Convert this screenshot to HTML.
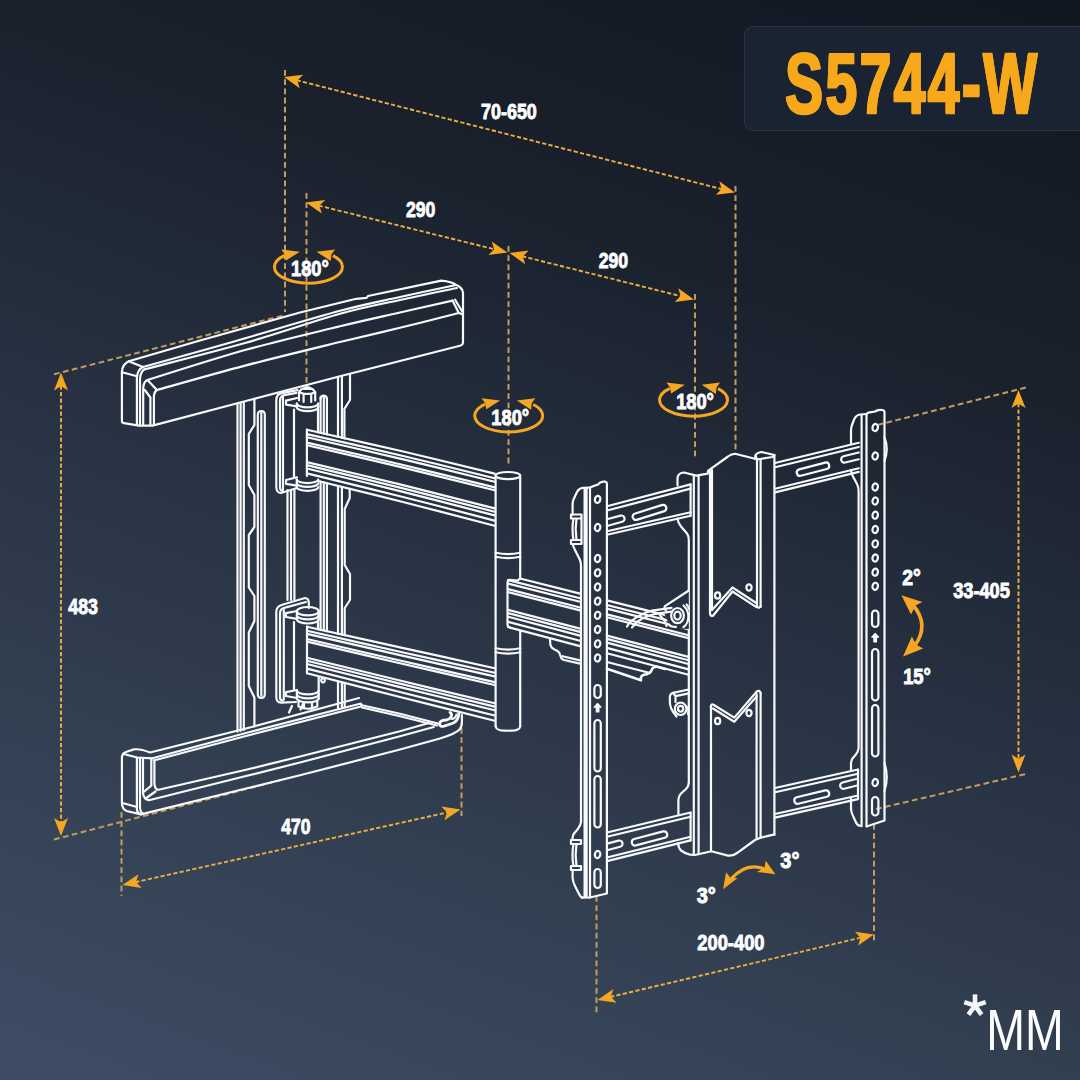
<!DOCTYPE html>
<html><head><meta charset="utf-8"><title>S5744-W</title>
<style>
html,body{margin:0;padding:0;}
body{width:1080px;height:1080px;overflow:hidden;position:relative;
background:linear-gradient(200deg,#111721 0%,#1a212d 27%,#2a3546 58%,#323f51 73%,#3e4d65 100%);
font-family:"Liberation Sans",sans-serif;}
.title{position:absolute;left:744px;top:26px;width:360px;height:105px;border-radius:9px;
background:#1a2331;border:1px solid #2b3543;box-sizing:border-box;}
.title span{position:absolute;left:40px;top:14px;font-weight:bold;font-size:85.5px;line-height:86px;color:#f7a81b;
transform-origin:0 0;transform:scale(0.668,1);white-space:nowrap;letter-spacing:3.5px;
-webkit-text-stroke:2.6px #f7a81b;text-shadow:1.3px 0 0 #f7a81b,-1.3px 0 0 #f7a81b;}
svg{position:absolute;left:0;top:0;}
.lbl{font-family:"Liberation Sans",sans-serif;font-weight:bold;fill:#fcfdfe;stroke:#fcfdfe;stroke-width:0.9px;}
.mm{position:absolute;color:#f3f5f8;white-space:nowrap;transform-origin:0 0;}
</style></head><body>
<div class="title"><span>S5744-W</span></div>
<svg width="1080" height="1080" viewBox="0 0 1080 1080">
<g fill="none" stroke="#c59b5e" stroke-width="2" stroke-dasharray="5.8 3.4">
<path d="M296.6 80.2L722.4 189.3" stroke="#eab042" stroke-dasharray="4.2 2.3" stroke-width="1.9"/>
<path d="M285.0 70.0L285.0 312.0"/>
<path d="M735.5 186.0L735.5 450.0"/>
<path d="M318.6 205.6L494.9 249.4" stroke="#eab042" stroke-dasharray="4.2 2.3" stroke-width="1.9"/>
<path d="M306.5 193.0L306.5 384.0"/>
<path d="M508.5 246.0L508.5 464.0"/>
<path d="M522.1 256.2L681.4 296.3" stroke="#eab042" stroke-dasharray="4.2 2.3" stroke-width="1.9"/>
<path d="M695.0 294.0L695.0 458.0"/>
<path d="M61.0 385.5L61.0 823.0" stroke="#eab042" stroke-dasharray="4.2 2.3" stroke-width="1.9"/>
<path d="M54.0 374.3L285.0 315.0"/>
<path d="M54.0 839.5L285.0 779.0"/>
<path d="M135.2 882.2L447.8 812.3" stroke="#eab042" stroke-dasharray="4.2 2.3" stroke-width="1.9"/>
<path d="M121.5 812.0L121.5 896.0"/>
<path d="M461.5 728.0L461.5 816.0"/>
<path d="M610.1 997.0L861.4 937.5" stroke="#eab042" stroke-dasharray="4.2 2.3" stroke-width="1.9"/>
<path d="M596.5 896.0L596.5 1013.0"/>
<path d="M874.0 824.0L874.0 941.0"/>
<path d="M1018.5 403.0L1018.5 759.5" stroke="#eab042" stroke-dasharray="4.2 2.3" stroke-width="1.9"/>
<path d="M877.5 425.0L1026.0 387.5"/>
<path d="M876.0 809.0L1026.0 774.0"/>
</g>
<g fill="none" stroke="#f8f9fb" stroke-width="2.2" stroke-linejoin="round" stroke-linecap="round">
<path d="M121.9 421 L121.9 372 Q122.2 364.5 128.8 361.3 L200 340.5 L300 312.5 L356.3 298.8 L366.5 297.9 L368 296 L441.3 280.6 Q452 281.5 456.3 285 Q462.5 287.5 463 293 L463 342.5 Q462.8 345 460 345.7 L340 376.3 L245 401.3 L152.5 425.6 L138.8 425.6 L124 423.2 Q121.9 422.8 121.9 421Z"/>
<path d="M123 372.5 L137 376.2"/>
<path d="M128.8 361.3 L143 367"/>
<path d="M136.9 425 L136.9 377.5 Q137.5 369.5 143 367"/>
<path d="M140 425.4 L140 379 Q140.5 371.5 144.6 369.3"/>
<path d="M143.0 367.0C158.3 362.7 202.2 350.6 235.0 341.2C267.8 331.8 312.5 318.2 340.0 310.8C367.5 303.4 380.7 301.3 400.0 297.0C419.3 292.7 446.7 287.0 456.0 285.0"/>
<path d="M144.6 369.3C161.3 364.9 212.4 352.2 245.0 343.0C277.6 333.8 314.2 321.0 340.0 313.8C365.8 306.6 380.5 304.3 400.0 300.0C419.5 295.7 447.5 290.0 457.0 288.0"/>
<path d="M147.5 380.0C163.8 375.0 212.9 358.9 245.0 350.0C277.1 341.1 314.2 332.6 340.0 326.3C365.8 320.1 381.2 316.8 400.0 312.5C418.8 308.2 443.8 302.6 452.5 300.6"/>
<path d="M156.9 390.0C171.6 385.9 214.5 373.6 245.0 365.6C275.5 357.6 314.2 348.3 340.0 342.0C365.8 335.7 380.2 332.6 400.0 327.8C419.8 323.0 449.0 315.5 458.8 313.0"/>
<path d="M143.2 424.5 L143.2 388 Q143.6 381.5 147.5 380 L156.9 390 Q154.2 392 153.9 396 L153.9 424.8"/>
<path d="M144.8 390 L150.4 397.5 L150.4 425.2"/>
<path d="M452.5 300.6 L458.8 313 L463 314.4"/>
<path d="M455 299.6 L461.9 311"/>
<path d="M237.5 403.6L237.5 731.7"/>
<path d="M240.6 402.8L240.6 730.9"/>
<path d="M243.8 402.0L243.8 730.1"/>
<path d="M254.4 399.3 L254.4 425 L248.8 433.8 L248.8 485 L254.4 495 L254.4 527 L248.8 535 L248.8 587.5 L254.4 596 L254.4 621 L248.8 632.5 L248.8 686 L254.4 697.5 L254.4 726.5"/>
<path d="M257.8 415 Q257.8 411 261.3 411 Q264.8 411 264.8 415 L264.8 694 Q264.8 698 261.3 698 Q257.8 698 257.8 694Z"/>
<path d="M261.3 412.5 L261.3 696"/>
<path d="M320.6 397.0L320.6 432.9"/>
<path d="M320.6 481.6L320.6 629.9"/>
<path d="M323.8 397.0L323.8 433.7"/>
<path d="M323.8 482.4L323.8 630.6"/>
<path d="M326.9 399.0L326.9 434.4"/>
<path d="M326.9 483.2L326.9 631.3"/>
<path d="M320.6 399 Q320.8 395.6 323.8 395.6 Q326.9 395.8 326.9 399"/>
<path d="M338.0 377.6L338.0 436.9"/>
<path d="M338.0 486.0L338.0 633.8"/>
<path d="M338.0 681.3L338.0 708.6"/>
<path d="M341.9 376.6L341.9 437.8"/>
<path d="M341.9 486.9L341.9 634.7"/>
<path d="M341.9 682.3L341.9 707.6"/>
<path d="M350 374.5 L350 400 L344.4 408.8 L344.4 438.4"/>
<path d="M349.7 488.9 L349.7 498 L344.7 509 L344.7 565 L350 574 L350 600 L344.7 608 L344.7 635.3"/>
<path d="M344.7 683.0 L344.7 706.9"/>
<path d="M287.5 490.0L287.5 600.0"/>
<path d="M291.0 490.0L291.0 600.0"/>
<path d="M294.4 490.0L294.4 600.0"/>
<path d="M297.5 390.2 L283 392.8 Q276.3 393.6 276.3 400 L276.3 487 Q276.5 493 281 493 L297 488"/>
<path d="M296.5 392.8 L285.5 394.8 Q280 395.6 280 400.5 L280 488 Q280.3 491 283 491"/>
<path d="M283 397 L283 489.5"/>
<path d="M297 398 L286 400.6 L286 404.6 L297 406.4"/>
<path d="M296.8 403.5A10.7 3.8 0 0 0 318.2 403.5"/>
<path d="M296.8 407.3A10.7 3.8 0 0 0 318.2 407.3"/>
<path d="M296.8 403.5 L296.8 407.3 M318.2 403.5 L318.2 407.3"/>
<path d="M299 392.2 L301.6 389 L312.6 389 L315.2 392.2 L311.2 393.8 L303.6 393.8Z"/>
<path d="M299 392.2 L299 400.5 M303.6 393.8 L303.6 402 M311.2 393.8 L311.2 402 M315.2 392.2 L315.2 400.5"/>
<path d="M303 388.6 Q307 385.6 311.5 388.6"/>
<path d="M294.0 409.5L294.0 478.0"/>
<path d="M318.0 409.5L318.0 432.3"/>
<path d="M297 477.3 L286 480 L286 483.8 L297 485.6"/>
<path d="M296.8 479.5A10.7 3.6 0 0 0 318.2 479.5"/>
<path d="M296.8 483.3A10.7 3.6 0 0 0 318.2 483.3"/>
<path d="M296.8 487.2A10.7 3.6 0 0 0 318.2 487.2"/>
<path d="M296.8 479.5 L296.8 487.2"/>
<path d="M308.8 608 L308.8 602 Q308.5 598.3 305 598 L283 604.5 Q276.3 606 276.3 612 L276.3 697 Q276.5 702.6 281 702.6 L296 702"/>
<path d="M306 602 L285 607.6 Q280 608.6 280 613.5 L280 698 Q280.3 700.6 283 700.6"/>
<path d="M283.8 610 L283.8 699.5"/>
<path d="M297 611 L286 613.2 L286 617 L297 618.8"/>
<path d="M296.9 611.2A10.9 4.2 0 1 0 318.7 611.2A10.9 4.2 0 1 0 296.9 611.2Z"/>
<path d="M296.9 615.2A10.9 4.2 0 0 0 318.7 615.2"/>
<path d="M296.9 619.3A10.9 4.2 0 0 0 318.7 619.3"/>
<path d="M296.9 611.2 L296.9 619.3 M318.7 611.2 L318.7 619.3"/>
<path d="M294.0 622.0L294.0 690.0"/>
<path d="M318.0 622.0L318.0 629.3"/>
<path d="M297 690 L286 692.2 L286 696 L297 698"/>
<path d="M296.9 690.5A10.9 3.8 0 0 0 318.7 690.5"/>
<path d="M296.9 694.5A10.9 3.8 0 0 0 318.7 694.5"/>
<path d="M296.9 698.5A10.9 3.8 0 0 0 318.7 698.5"/>
<path d="M296.9 690.5 L296.9 698.5 M318.7 677 L318.7 698.5"/>
<path d="M298.5 700 L298.5 706.5 Q307.8 711 317.3 706.5 L317.3 700 M304 702.3 L304 708.6 M312 702.3 L312 708.6"/>
<path d="M306.9 429.8C322.4 433.3 368.7 443.5 400.0 450.8C431.3 458.1 478.8 469.8 494.6 473.6"/>
<path d="M306.9 434.1C322.4 437.6 368.7 447.9 400.0 455.2C431.3 462.6 478.8 474.4 494.6 478.2"/>
<path d="M306.9 437.3C322.4 440.9 368.7 451.2 400.0 458.6C431.3 466.0 478.8 477.8 494.6 481.7"/>
<path d="M306.9 442.6C322.4 446.2 368.7 456.7 400.0 464.2C431.3 471.6 478.8 483.6 494.6 487.4"/>
<path d="M306.9 445.3C322.4 448.9 368.7 459.4 400.0 466.9C431.3 474.4 478.8 486.4 494.6 490.3"/>
<path d="M306.9 462.1C322.4 465.8 368.7 476.7 400.0 484.4C431.3 492.1 478.8 504.4 494.6 508.4"/>
<path d="M306.9 465.1C322.4 468.9 368.7 479.8 400.0 487.6C431.3 495.4 478.8 507.7 494.6 511.7"/>
<path d="M306.9 468.5C322.4 472.3 368.7 483.3 400.0 491.1C431.3 498.9 478.8 511.3 494.6 515.4"/>
<path d="M306.9 473.4C322.4 477.2 368.7 488.3 400.0 496.2C431.3 504.0 478.8 516.5 494.6 520.6"/>
<path d="M318.0 481.0C331.7 484.4 370.6 493.7 400.0 501.2C429.4 508.7 478.8 521.7 494.6 525.8"/>
<path d="M306.9 429.5 L306.9 476"/>
<path d="M307.0 626.7C322.5 630.2 368.7 640.5 400.0 647.4C431.3 654.3 478.8 664.7 494.6 668.2"/>
<path d="M307.0 630.8C322.5 634.3 368.7 644.8 400.0 651.8C431.3 658.8 478.8 669.3 494.6 672.8"/>
<path d="M307.0 633.9C322.5 637.5 368.7 648.0 400.0 655.1C431.3 662.2 478.8 672.8 494.6 676.4"/>
<path d="M307.0 639.0C322.5 642.6 368.7 653.4 400.0 660.5C431.3 667.7 478.8 678.5 494.6 682.1"/>
<path d="M307.0 641.6C322.5 645.2 368.7 656.0 400.0 663.3C431.3 670.5 478.8 681.4 494.6 685.0"/>
<path d="M307.0 657.8C322.5 661.6 368.7 672.9 400.0 680.5C431.3 688.1 478.8 699.5 494.6 703.3"/>
<path d="M307.0 660.7C322.5 664.5 368.7 676.0 400.0 683.6C431.3 691.3 478.8 702.8 494.6 706.6"/>
<path d="M307.0 664.0C322.5 667.8 368.7 679.4 400.0 687.1C431.3 694.8 478.8 706.4 494.6 710.3"/>
<path d="M307.0 668.6C322.5 672.5 368.7 684.2 400.0 692.0C431.3 699.9 478.8 711.6 494.6 715.5"/>
<path d="M307.0 673.3C322.5 677.2 368.7 689.1 400.0 697.0C431.3 704.9 478.8 716.8 494.6 720.8"/>
<path d="M307 626.7 L307 673.3"/>
<path d="M321.2 680.3A1.8 2.2 0 1 0 324.8 680.3A1.8 2.2 0 1 0 321.2 680.3Z"/>
<path d="M520.0 578.5L580.0 593.6"/>
<path d="M606.9 600.4L688.5 620.9"/>
<path d="M508.0 580.0L580.0 598.2"/>
<path d="M606.9 605.0L688.5 625.6"/>
<path d="M508.0 583.5L580.0 601.7"/>
<path d="M606.9 608.6L688.5 629.2"/>
<path d="M508.0 589.1L580.0 607.5"/>
<path d="M606.9 614.4L688.5 635.2"/>
<path d="M508.0 592.0L580.0 610.4"/>
<path d="M606.9 617.3L688.5 638.1"/>
<path d="M508.0 609.9L580.0 628.6"/>
<path d="M606.9 635.6L688.5 656.9"/>
<path d="M508.0 613.1L580.0 631.9"/>
<path d="M606.9 638.9L688.5 660.3"/>
<path d="M508.0 616.7L580.0 635.6"/>
<path d="M606.9 642.6L688.5 664.0"/>
<path d="M508.0 621.9L580.0 640.8"/>
<path d="M606.9 647.9L688.5 669.4"/>
<path d="M508.0 627.0L580.0 646.1"/>
<path d="M606.9 653.2L688.5 674.8"/>
<path d="M520 578.5 L517.5 580.6 L509.5 579.8 Q507.5 580.5 507.5 583 L507.5 625 Q507.8 627 510 627.5"/>
<path d="M495.6 475.6A12.3 3.6 0 1 0 520.2 475.6A12.3 3.6 0 1 0 495.6 475.6Z"/>
<path d="M495.6 475.6L495.6 726.0"/>
<path d="M520.2 475.6L520.2 578.5"/>
<path d="M520.2 631.0L520.2 726.0"/>
<path d="M495.6 726 Q496 729.5 501 730.3 Q507.9 731.2 515 730.3 Q520 729.5 520.2 726"/>
<path d="M495.6 552.8 Q507.9 555.5999999999999 520.2 552.8"/>
<path d="M495.6 556.8 Q507.9 559.5999999999999 520.2 556.8"/>
<path d="M495.6 648.3 Q507.9 651.0999999999999 520.2 648.3"/>
<path d="M495.6 652.3 Q507.9 655.0999999999999 520.2 652.3"/>
<path d="M121.9 758 Q122 753.3 126 752 L133.8 749.4 Q140 748.5 150 752.5 L245 728.8 L359 698 M121.9 758 L121.9 803 Q122.2 809 126.5 811 L141 814.4 L245 788.8 L300 775.3 L400 749.5 L440 738.5 Q456 733.5 459.5 729.5 Q461.8 727 461.9 722 L461.9 715"/>
<path d="M123 753.8 L137 757.5 L152.5 758.3"/>
<path d="M122.5 803 L137 807"/>
<path d="M136.9 757.5 L136.9 810 Q137.5 813.2 141 814.4"/>
<path d="M140 757.8 L140 808 Q140.5 812.5 143.5 813.8"/>
<path d="M152.5 758.3 L245 733.2 L361 703.5"/>
<path d="M153.8 760.5 L245 736.3 L361 706.5"/>
<path d="M361 705 L400 713.8 L438.8 723.8"/>
<path d="M362 707.5 L400 716.3 L437 725.5"/>
<path d="M143 759 L143 793 Q143.5 799.5 149 800.2 L245 776.3 L300 762.5 L400 736.3 L433.8 727"/>
<path d="M151.3 758.5 L151.3 785.6 L143 792.5"/>
<path d="M154.4 760.5 L154.4 784 Q154.8 788.5 157.5 790 L245 770 L300 756.5 L400 731.3 L428.8 723"/>
<path d="M146.3 798 L155.5 791.5"/>
<path d="M450 712.5 Q452 713.5 451.5 716 Q450 719.5 446 720 Q440.5 720 439.5 723.5 Q439.5 727 444 726.2 L452 723.5 Q457.5 721.5 458.5 716 L459 713" stroke-width="2.8"/>
<path d="M452 719 Q455.5 718.5 456.5 714.5"/>
<path d="M289 712.5 L292 706 M300.5 709.5 L303 704"/>
<path d="M590 896 L590 488.5 Q590.2 487 592 486.6 L598 484.5 Q600 482 603 481.6 L605 481.5 Q606.9 481.8 606.9 484 L606.9 893.5 L590 897.5"/>
<path d="M584.6 489 L584.6 896.5 M586.6 488.8 L586.6 897"/>
<path d="M581.5 897.6 L590 897.5"/>
<path d="M590 487.6 L583 487.8 Q579 488.2 577 492 L573.5 499.5 Q572.6 501.5 572.6 504 L572.6 515"/>
<path d="M572.8 544 Q573.3 547 575 550 L580 560 Q581 562.5 581 566 L581 822 Q580.5 826 577.5 829.5 L574 833.5 Q572.6 835.5 572.6 838 L572.6 840"/>
<path d="M572.6 870 L572.6 878 Q573 882 575 886 L579 894 Q580.5 897.4 583 897.6"/>
<path d="M571 514.5 L581.5 514.5 L581.5 518.5 L571 518.5Z M571 540 L581.5 540 L581.5 544 L571 544Z M573.5 518.5 Q571.5 529 573.5 540 M576.5 518.5 Q574.8 529 576.5 540 M581.5 518.5 L581.5 540"/>
<path d="M571 840 L581 840 L581 844 L571 844Z M571 866 L581 866 L581 870 L571 870Z M573.5 844 Q571.5 855 573.5 866 M576.5 844 Q574.8 855 576.5 866"/>
<path d="M594.9 499.4A2.7 3.6 0 1 0 600.3 499.4A2.7 3.6 0 1 0 594.9 499.4Z" transform="rotate(12 597.6 499.4)"/>
<path d="M594.9 527.5A2.7 3.6 0 1 0 600.3 527.5A2.7 3.6 0 1 0 594.9 527.5Z" transform="rotate(12 597.6 527.5)"/>
<path d="M594.9 558.5A2.7 3.6 0 1 0 600.3 558.5A2.7 3.6 0 1 0 594.9 558.5Z" transform="rotate(12 597.6 558.5)"/>
<path d="M594.9 572.8A2.7 3.6 0 1 0 600.3 572.8A2.7 3.6 0 1 0 594.9 572.8Z" transform="rotate(12 597.6 572.8)"/>
<path d="M594.9 587.0A2.7 3.6 0 1 0 600.3 587.0A2.7 3.6 0 1 0 594.9 587.0Z" transform="rotate(12 597.6 587)"/>
<path d="M594.9 601.2A2.7 3.6 0 1 0 600.3 601.2A2.7 3.6 0 1 0 594.9 601.2Z" transform="rotate(12 597.6 601.2)"/>
<path d="M594.9 615.3A2.7 3.6 0 1 0 600.3 615.3A2.7 3.6 0 1 0 594.9 615.3Z" transform="rotate(12 597.6 615.3)"/>
<path d="M594.9 629.5A2.7 3.6 0 1 0 600.3 629.5A2.7 3.6 0 1 0 594.9 629.5Z" transform="rotate(12 597.6 629.5)"/>
<path d="M594.9 643.8A2.7 3.6 0 1 0 600.3 643.8A2.7 3.6 0 1 0 594.9 643.8Z" transform="rotate(12 597.6 643.8)"/>
<path d="M594.9 658.0A2.7 3.6 0 1 0 600.3 658.0A2.7 3.6 0 1 0 594.9 658.0Z" transform="rotate(12 597.6 658)"/>
<path d="M594.4 688.2A3.2 3.2 0 0 1 600.8 688.2L600.8 694.8A3.2 3.2 0 0 1 594.4 694.8Z"/>
<path d="M597.6 703.5L601.0 707.2L598.9 707.2L598.9 712.0L596.3 712.0L596.3 707.2L594.2 707.2Z" stroke-width="1.2" fill="#f8f9fb"/>
<path d="M594.4 723.2A3.2 3.2 0 0 1 600.8 723.2L600.8 768.3A3.2 3.2 0 0 1 594.4 768.3Z"/>
<path d="M594.4 779.2A3.2 3.2 0 0 1 600.8 779.2L600.8 824.3A3.2 3.2 0 0 1 594.4 824.3Z"/>
<path d="M594.9 854.5A2.7 3.6 0 1 0 600.3 854.5A2.7 3.6 0 1 0 594.9 854.5Z" transform="rotate(12 597.6 854.5)"/>
<path d="M594.4 872.2A3.2 3.2 0 0 1 600.8 872.2L600.8 884.8A3.2 3.2 0 0 1 594.4 884.8Z"/>
<path d="M866.5 826.5 L866.5 414.5 Q866.8 413 868.5 412.6 L875 411.5 Q877 410 880 409.8 L882.5 410 Q884.5 410.3 884.5 412.5 L884.5 820.5 L866.5 826.5"/>
<path d="M861.6 415.4 L861.6 826.2"/>
<path d="M866.5 414 L860 414.5 Q856.5 415 854.5 418.5 L852 425 Q851 428 851 431 L851 444"/>
<path d="M851 470 Q851.3 473.5 853 476.5 L857 484 Q858.6 487 858.6 491 L858.6 748 Q858.3 752 855.5 755 L852.5 758.5 Q851 760.5 851 763.5 L851 771 M851 798.5 L851 809 Q851.3 813 853.5 817 L856 822.5 Q857.5 825.8 861 826"/>
<path d="M858.0 769.5L858.0 799.0"/>
<path d="M884.5 437.5 Q889 449 884.5 461"/>
<path d="M884.5 763 Q889 777 884.5 791"/>
<path d="M872.5 427.5A2.7 3.6 0 1 0 877.9 427.5A2.7 3.6 0 1 0 872.5 427.5Z" transform="rotate(12 875.2 427.5)"/>
<path d="M872.5 456.0A2.7 3.6 0 1 0 877.9 456.0A2.7 3.6 0 1 0 872.5 456.0Z" transform="rotate(12 875.2 456)"/>
<path d="M872.5 487.0A2.7 3.6 0 1 0 877.9 487.0A2.7 3.6 0 1 0 872.5 487.0Z" transform="rotate(12 875.2 487)"/>
<path d="M872.5 501.0A2.7 3.6 0 1 0 877.9 501.0A2.7 3.6 0 1 0 872.5 501.0Z" transform="rotate(12 875.2 501)"/>
<path d="M872.5 515.2A2.7 3.6 0 1 0 877.9 515.2A2.7 3.6 0 1 0 872.5 515.2Z" transform="rotate(12 875.2 515.2)"/>
<path d="M872.5 529.5A2.7 3.6 0 1 0 877.9 529.5A2.7 3.6 0 1 0 872.5 529.5Z" transform="rotate(12 875.2 529.5)"/>
<path d="M872.5 543.8A2.7 3.6 0 1 0 877.9 543.8A2.7 3.6 0 1 0 872.5 543.8Z" transform="rotate(12 875.2 543.8)"/>
<path d="M872.5 558.0A2.7 3.6 0 1 0 877.9 558.0A2.7 3.6 0 1 0 872.5 558.0Z" transform="rotate(12 875.2 558)"/>
<path d="M872.5 572.2A2.7 3.6 0 1 0 877.9 572.2A2.7 3.6 0 1 0 872.5 572.2Z" transform="rotate(12 875.2 572.2)"/>
<path d="M872.5 586.3A2.7 3.6 0 1 0 877.9 586.3A2.7 3.6 0 1 0 872.5 586.3Z" transform="rotate(12 875.2 586.3)"/>
<path d="M872.0 613.7A3.2 3.2 0 0 1 878.4 613.7L878.4 623.8A3.2 3.2 0 0 1 872.0 623.8Z"/>
<path d="M875.2 633.5L878.6 637.2L876.5 637.2L876.5 642.0L873.9 642.0L873.9 637.2L871.8 637.2Z" stroke-width="1.2" fill="#f8f9fb"/>
<path d="M872.0 652.2A3.2 3.2 0 0 1 878.4 652.2L878.4 697.3A3.2 3.2 0 0 1 872.0 697.3Z"/>
<path d="M872.0 708.2A3.2 3.2 0 0 1 878.4 708.2L878.4 753.3A3.2 3.2 0 0 1 872.0 753.3Z"/>
<path d="M872.5 782.5A2.7 3.6 0 1 0 877.9 782.5A2.7 3.6 0 1 0 872.5 782.5Z" transform="rotate(12 875.2 782.5)"/>
<path d="M872.0 800.2A3.2 3.2 0 0 1 878.4 800.2L878.4 812.3A3.2 3.2 0 0 1 872.0 812.3Z"/>
<path d="M607.0 506.3L690.6 484.4"/>
<path d="M607.0 510.5L690.6 488.6"/>
<path d="M607.0 531.2L690.6 512.2"/>
<path d="M607.0 534.8L690.6 515.8"/>
<path d="M690.6 484.4L690.6 515.8"/>
<path d="M636.5 519.9L664.5 511.1A3.3 3.3 0 0 0 662.5 504.9L634.5 513.7A3.3 3.3 0 0 0 636.5 519.9Z"/>
<path d="M607 519.2 L620.5 515.6 A3.2 3.2 0 0 1 622.2 521.8 L607 526"/>
<path d="M775.0 463.0L858.8 442.8"/>
<path d="M775.0 467.2L858.8 447.0"/>
<path d="M775.0 488.8L858.8 468.3"/>
<path d="M775.0 492.4L858.8 471.9"/>
<path d="M800.8 475.8L826.8 469.0A3.3 3.3 0 0 0 825.2 462.6L799.2 469.4A3.3 3.3 0 0 0 800.8 475.8Z"/>
<path d="M858.8 452.5 L843.5 456.3 A3.2 3.2 0 0 0 845.2 462.5 L858.8 459.3"/>
<path d="M607.0 832.5L690.6 812.5"/>
<path d="M607.0 836.7L690.6 816.7"/>
<path d="M607.0 857.5L690.6 836.8"/>
<path d="M607.0 861.1L690.6 840.4"/>
<path d="M635.8 845.4L664.8 837.8A3.3 3.3 0 0 0 663.2 831.4L634.2 839.0A3.3 3.3 0 0 0 635.8 845.4Z"/>
<path d="M607 843.6 L618.5 840.6 A3.2 3.2 0 0 1 620.2 846.8 L607 850.2"/>
<path d="M775.0 788.0L858.0 769.5"/>
<path d="M775.0 792.2L858.0 773.7"/>
<path d="M775.0 814.0L858.0 795.5"/>
<path d="M775.0 817.6L858.0 799.1"/>
<path d="M798.3 803.7L826.8 796.8A3.3 3.3 0 0 0 825.2 790.4L796.7 797.3A3.3 3.3 0 0 0 798.3 803.7Z"/>
<path d="M858 778.5 L842.5 782.5 A3.2 3.2 0 0 0 844.2 788.7 L858 785.3"/>
<path d="M677.5 485.5 L677.5 478 Q678 473 684 472.5 L696.3 475.6 L707.8 473.6 L708 470.8 L728 456.5 Q731.5 453.8 735 453.8 L755 458.8"/>
<path d="M755 458.8 L755.5 455.5 Q756 453.2 761.3 452 L774.4 455 L774.4 835"/>
<path d="M757 459.5 L772.5 457 L774.4 455 M757 459.5 L755.5 455.5"/>
<path d="M757.0 459.5L757.0 606.5"/>
<path d="M760.6 459.0L760.6 607.0"/>
<path d="M756.6 694.0L756.6 839.0"/>
<path d="M760.6 693.0L760.6 837.8"/>
<path d="M693.8 476.0L693.8 854.8"/>
<path d="M698.6 475.6L698.6 854.2"/>
<path d="M710.0 471.0L710.0 613.5"/>
<path d="M712.0 470.0L712.0 610.0"/>
<path d="M711.0 706.0L711.0 851.3"/>
<path d="M677.5 518.5 Q678 523 681 526.5 L687 533.5 Q688.8 536 688.8 540 L688.8 783"/>
<path d="M688.8 783 Q688.5 787 685.5 789.5 L681 793.5 Q678.6 796 678.4 800 L678.4 814"/>
<path d="M678.1 843 Q678.4 848 681 850.5 Q685 853.5 690 854.6 L695 855 L711.3 851.3 L728 855.6 Q733.5 856 738 852.3 L755 840 L760.6 837.8 L774.4 834.4"/>
<path d="M690.6 812.5L690.6 840.5"/>
<path d="M710 613.5 Q710.3 616.5 713 615.8 L732.5 591.5 L756 606.8 Q760.3 609 760.6 606"/>
<path d="M712 610 L732.5 587.5 L757 603.5"/>
<path d="M715.0 595.5A2.6 3.2 0 1 0 720.2 595.5A2.6 3.2 0 1 0 715.0 595.5Z" transform="rotate(0 717.6 595.5)"/>
<path d="M746.4 587.5A2.6 3.2 0 1 0 751.6 587.5A2.6 3.2 0 1 0 746.4 587.5Z" transform="rotate(0 749 587.5)"/>
<path d="M710.8 707 Q711 703.5 713.5 704.8 L734.3 717.6 L756.8 691.5 Q759.5 689.5 760.6 693"/>
<path d="M713 708.5 L734.3 721.8 L757 696"/>
<path d="M715.0 721.0A2.6 3.2 0 1 0 720.2 721.0A2.6 3.2 0 1 0 715.0 721.0Z" transform="rotate(0 717.6 721)"/>
<path d="M746.4 713.0A2.6 3.2 0 1 0 751.6 713.0A2.6 3.2 0 1 0 746.4 713.0Z" transform="rotate(0 749 713)"/>
<path d="M606.9 668.8 L641 680.3 Q640 676 644 674.8 Q650 674 651.5 670.5 Q652.5 666.5 657 666.8 L665 669" stroke-width="2.6"/>
<path d="M606.9 662 L650 673"/>
<path d="M550 639.6 L550.4 645 Q551.5 648.5 555 649.8 Q558.8 651 559.8 654 L561 657.5 Q561.8 659.5 564 660 L580 663.6"/>
<path d="M562.5 656.2 L580 660.4"/>
<path d="M665 606.2 L688.8 590.5 L688.8 629 L676 628.5 Q668 625 664.5 614 Q663.5 609 665 606.2Z" fill="#273145" stroke="none"/>
<path d="M665 606.2 L688.8 590.5 M665 606.2 Q663.5 608.5 666 610.5"/>
<path d="M674.3 615.6A3.2 4.0 0 1 0 680.7 615.6A3.2 4.0 0 1 0 674.3 615.6Z"/>
<path d="M671.1 615.6A6.4 7.6 0 1 0 683.9 615.6A6.4 7.6 0 1 0 671.1 615.6Z"/>
<path d="M683.5 605.5 Q688.6 610.5 688.4 617 Q688 624 683.5 627"/>
<path d="M686.6 604.5 Q688.6 606.5 688.8 609"/>
<path d="M627 626.5 L629.5 622.5 Q640 613.5 652 610.6 L671.5 607.8"/>
<path d="M632 627.5 L637.5 621.5 Q646 616 656 613.8 L671 611.6"/>
<path d="M660 615.5 Q665.5 620.5 666.5 626 M668.5 624.5 Q671 627.5 676 626.8"/>
<path d="M688.8 689.5 L673 692.8 Q670 693.8 669.8 697 L670 704 Q670.5 708.5 673.5 712.5 L676.5 716.5"/>
<path d="M673 692.8 L675.5 696.2 L688.8 693.4 M675.5 696.2 L675.5 702"/>
<path d="M674.8 708.8A5.8 6.2 0 1 0 686.4 708.8A5.8 6.2 0 1 0 674.8 708.8Z"/>
<path d="M678.0 708.8A2.6 2.9 0 1 0 683.2 708.8A2.6 2.9 0 1 0 678.0 708.8Z"/>
<path d="M685.8 706 Q689.5 709 688 714"/>
</g>
<g>
<path d="M284.0 77.0L303.2 74.7L297.4 80.4L299.7 88.2Z" fill="#f5a623"/>
<path d="M735.0 192.5L715.8 194.8L721.6 189.1L719.3 181.3Z" fill="#f5a623"/>
<path d="M306.0 202.5L325.2 200.0L319.4 205.8L321.8 213.6Z" fill="#f5a623"/>
<path d="M507.5 252.5L488.3 255.0L494.1 249.2L491.7 241.4Z" fill="#f5a623"/>
<path d="M509.5 253.0L528.7 250.6L522.9 256.4L525.2 264.2Z" fill="#f5a623"/>
<path d="M694.0 299.5L674.8 301.9L680.6 296.1L678.3 288.3Z" fill="#f5a623"/>
<path d="M61.0 372.5L68.0 390.5L61.0 386.3L54.0 390.5Z" fill="#f5a623"/>
<path d="M61.0 836.0L54.0 818.0L61.0 822.2L68.0 818.0Z" fill="#f5a623"/>
<path d="M122.5 885.0L138.5 874.2L136.0 882.0L141.6 887.9Z" fill="#f5a623"/>
<path d="M460.5 809.5L444.5 820.3L447.0 812.5L441.4 806.6Z" fill="#f5a623"/>
<path d="M597.5 1000.0L613.4 989.0L610.9 996.8L616.6 1002.7Z" fill="#f5a623"/>
<path d="M874.0 934.5L858.1 945.5L860.6 937.7L854.9 931.8Z" fill="#f5a623"/>
<path d="M1018.5 390.0L1025.5 408.0L1018.5 403.8L1011.5 408.0Z" fill="#f5a623"/>
<path d="M1018.5 772.5L1011.5 754.5L1018.5 758.7L1025.5 754.5Z" fill="#f5a623"/>
<path d="M332.9 255.7A34 16.2 0 1 1 284.8 255.3" fill="none" stroke="#f5a623" stroke-width="3"/>
<path d="M299.8 251.8L281.3 249.4L284.9 254.5L286.0 260.5Z" fill="#f5a623"/>
<path d="M316.5 251.8L335.0 249.4L331.4 254.5L330.8 261.0Z" fill="#f5a623"/>
<path d="M533.2 404.5A34 16.2 0 1 1 485.1 404.1" fill="none" stroke="#f5a623" stroke-width="3"/>
<path d="M500.1 400.6L481.6 398.2L485.2 403.3L486.3 409.3Z" fill="#f5a623"/>
<path d="M516.8 400.6L535.3 398.2L531.7 403.3L531.1 409.8Z" fill="#f5a623"/>
<path d="M718.0 388.7A34 16.2 0 1 1 669.9 388.3" fill="none" stroke="#f5a623" stroke-width="3"/>
<path d="M684.9 384.8L666.4 382.4L670.0 387.5L671.1 393.5Z" fill="#f5a623"/>
<path d="M701.6 384.8L720.1 382.4L716.5 387.5L715.9 394.0Z" fill="#f5a623"/>
<path d="M913 605 Q930 625 914.5 646" fill="none" stroke="#f5a623" stroke-width="3.6"/>
<path d="M901.5 595.2 L922.4 601.9 L915.5 605.5 L911 614.6Z" fill="#f5a623"/>
<path d="M903 656.4 L911.9 636.6 L916 644.5 L923.2 648.5Z" fill="#f5a623"/>
<path d="M731 879 Q746 862 764 868.8" fill="none" stroke="#f5a623" stroke-width="3.4"/>
<path d="M723.1 889.3 L726.1 872.3 L730.5 878 L737.6 877.9Z" fill="#f5a623"/>
<path d="M775.4 874.3 L765.8 860.8 L764.5 868 L756.8 871.9Z" fill="#f5a623"/>
</g>
<g class="lbl">
<text transform="translate(508.9 119.4) scale(0.816 1)" text-anchor="middle" font-size="22.0">70-650</text>
<text transform="translate(420.6 216.7) scale(0.803 1)" text-anchor="middle" font-size="22.0">290</text>
<text transform="translate(613.4 268.4) scale(0.803 1)" text-anchor="middle" font-size="22.0">290</text>
<text transform="translate(83.1 614.2) scale(0.809 1)" text-anchor="middle" font-size="22.0">483</text>
<text transform="translate(295.8 834.0) scale(0.798 1)" text-anchor="middle" font-size="22.0">470</text>
<text transform="translate(730.9 950.3) scale(0.834 1)" text-anchor="middle" font-size="22.0">200-400</text>
<text transform="translate(981.5 597.9) scale(0.828 1)" text-anchor="middle" font-size="22.0">33-405</text>
<text transform="translate(309.9 275.8) scale(0.861 1)" text-anchor="middle" font-size="21.2">180°</text>
<text transform="translate(510.2 424.6) scale(0.861 1)" text-anchor="middle" font-size="21.2">180°</text>
<text transform="translate(695.0 408.8) scale(0.861 1)" text-anchor="middle" font-size="21.2">180°</text>
<text transform="translate(911.4 584.5) scale(0.915 1)" text-anchor="middle" font-size="21.2">2°</text>
<text transform="translate(917.0 683.8) scale(0.866 1)" text-anchor="middle" font-size="21.2">15°</text>
<text transform="translate(789.9 867.9) scale(0.908 1)" text-anchor="middle" font-size="22">3°</text>
<text transform="translate(706.2 903.4) scale(0.908 1)" text-anchor="middle" font-size="22">3°</text>
<g stroke="#f3f5f8" stroke-width="4.6" stroke-linecap="butt"><path d="M975 1005.6L975.0 994.4"/><path d="M975 1005.6L985.7 1002.1"/><path d="M975 1005.6L981.6 1014.7"/><path d="M975 1005.6L968.4 1014.7"/><path d="M975 1005.6L964.3 1002.1"/></g>
<text transform="translate(986.3 1050) scale(0.81 1)" font-size="57.4" stroke="none" style="font-weight:normal;stroke:none">MM</text>
</g>
</svg>
</body></html>
